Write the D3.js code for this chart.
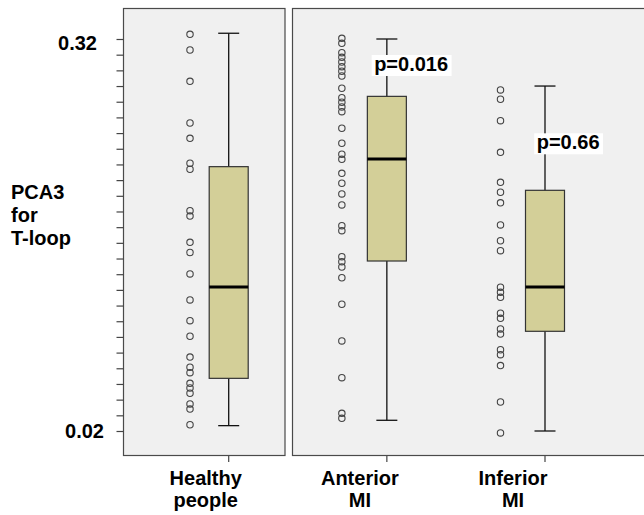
<!DOCTYPE html>
<html>
<head>
<meta charset="utf-8">
<script src="https://cdn.jsdelivr.net/npm/d3@7"></script>
<style>
  body { margin: 0; background: #fff; }
  text { font-family: 'Liberation Sans', Arial, sans-serif; font-weight: bold; fill: #000; }
</style>
</head>
<body>
<div class="canvas"></div>
<script>
// categories and their two-line labels
const categories = ['Healthy', 'Anterior', 'Inferior'];
const labelLines = [['Healthy', 'people'], ['Anterior', 'MI'], ['Inferior', 'MI']];

// box statistics
const whiskerHigh = [0.3244, 0.3200, 0.2840];
const q3 = [0.2223, 0.2761, 0.2042];
const median = [0.1302, 0.2282, 0.1302];
const q1 = [0.0603, 0.1501, 0.0963];
const whiskerLow = [0.0241, 0.0282, 0.0200];

// individual values shown as circles next to each box
const healthyValues = [0.3236, 0.3116, 0.2876, 0.2557, 0.2440, 0.2249, 0.2203, 0.1886,
  0.1845, 0.1644, 0.1566, 0.1402, 0.1203, 0.1044, 0.0925, 0.0766, 0.0688, 0.0646,
  0.0565, 0.0529, 0.0489, 0.0407, 0.0368, 0.0248];
const anteriorValues = [0.3205, 0.3167, 0.3095, 0.3060, 0.3024, 0.2988, 0.2953, 0.2917,
  0.2823, 0.2751, 0.2716, 0.2680, 0.2644, 0.2517, 0.2402, 0.2318, 0.2279, 0.2172,
  0.2096, 0.2014, 0.1930, 0.1771, 0.1733, 0.1534, 0.1496, 0.1455, 0.1373, 0.1170,
  0.0889, 0.0608, 0.0335, 0.0297];
const inferiorValues = [0.2810, 0.2739, 0.2575, 0.2333, 0.2103, 0.2027, 0.1946, 0.1777,
  0.1656, 0.1580, 0.1300, 0.1261, 0.1223, 0.1101, 0.1062, 0.0981, 0.0942, 0.0822,
  0.0784, 0.0701, 0.0422, 0.0185];
const pointValues = [healthyValues, anteriorValues, inferiorValues];

// axis
const yTickLabels = ['0.02', '0.32'];
const yTickLabelValues = [0.02, 0.32];
const yMinorStep = 0.012;

// p values
const pLabels = ['', 'p=0.016', 'p=0.66'];

//svg canvas
const svg = d3.select('.canvas').append('svg').attr('width', 644).attr('height', 515);

//scales
const x = d3.scalePoint().domain(categories).range([228.7, 545]);
const y = d3.scaleLinear().domain([0.02, 0.32]).range([431, 39]);

//panels
const panels = [
  { x: 123.5, w: 161.5 },
  { x: 292.5, w: 360 }
];
svg.selectAll('rect.panel')
  .data(panels)
  .enter()
  .append('rect')
  .attr('class', 'panel')
  .attr('x', d => d.x)
  .attr('y', 8.5)
  .attr('width', d => d.w)
  .attr('height', 447)
  .attr('fill', '#f0f0f0')
  .attr('stroke', '#4a4a4a')
  .attr('stroke-width', 1.2);

//y axis minor ticks
const yTicks = d3.range(0, 26).map(i => 0.02 + i * yMinorStep);
const yAxis = svg.append('g')
  .attr('transform', 'translate(123.5,0)')
  .call(d3.axisLeft(y).tickValues(yTicks).tickSize(7).tickFormat(''));
yAxis.select('.domain').remove();
yAxis.selectAll('line').attr('stroke', '#444').attr('stroke-width', 1.2);

// tick labels (0.32 sits a little lower/left in the original)
const labelNudge = [[0, 0], [-7, 4]];
svg.selectAll('text.ytick')
  .data(yTickLabels)
  .enter()
  .append('text')
  .attr('class', 'ytick')
  .attr('x', (d, i) => 104 + labelNudge[i][0])
  .attr('y', (d, i) => y(yTickLabelValues[i]) + labelNudge[i][1])
  .attr('dy', '0.35em')
  .attr('text-anchor', 'end')
  .style('font-size', '20px')
  .text(d => d);

//y title
svg.append('text')
  .attr('x', 11)
  .attr('y', 198.5)
  .style('font-size', '20px')
  .selectAll('tspan')
  .data(['PCA3', 'for', 'T-loop'])
  .enter()
  .append('tspan')
  .attr('x', 11)
  .attr('dy', (d, i) => i === 0 ? 0 : 23)
  .text(d => d);

//x ticks
svg.selectAll('line.xtick')
  .data(categories)
  .enter()
  .append('line')
  .attr('class', 'xtick')
  .attr('x1', d => x(d))
  .attr('x2', d => x(d))
  .attr('y1', 456)
  .attr('y2', 462)
  .attr('stroke', '#444')
  .attr('stroke-width', 1.2);

//x labels
const labelDx = [-23, -27, -32];
categories.forEach((c, i) => {
  svg.append('text')
    .attr('x', x(c) + labelDx[i])
    .attr('y', 484.5)
    .attr('text-anchor', 'middle')
    .style('font-size', '20px')
    .selectAll('tspan')
    .data(labelLines[i])
    .enter()
    .append('tspan')
    .attr('x', x(c) + labelDx[i])
    .attr('dy', (d, j) => j === 0 ? 0 : 22)
    .text(d => d);
});

//boxes
const boxW = 39;
const capW = 21;
const boxes = svg.selectAll('g.box')
  .data(categories)
  .enter()
  .append('g')
  .attr('class', 'box')
  .attr('transform', d => `translate(${x(d)},0)`);

boxes.append('line')
  .attr('y1', (d, i) => y(whiskerHigh[i]))
  .attr('y2', (d, i) => y(whiskerLow[i]))
  .attr('stroke', '#111')
  .attr('stroke-width', 1.3);

boxes.append('line')
  .attr('x1', -capW / 2)
  .attr('x2', capW / 2)
  .attr('y1', (d, i) => y(whiskerHigh[i]))
  .attr('y2', (d, i) => y(whiskerHigh[i]))
  .attr('stroke', '#111')
  .attr('stroke-width', 1.3);

boxes.append('line')
  .attr('x1', -capW / 2)
  .attr('x2', capW / 2)
  .attr('y1', (d, i) => y(whiskerLow[i]))
  .attr('y2', (d, i) => y(whiskerLow[i]))
  .attr('stroke', '#111')
  .attr('stroke-width', 1.3);

boxes.append('rect')
  .attr('x', -boxW / 2)
  .attr('width', boxW)
  .attr('y', (d, i) => y(q3[i]))
  .attr('height', (d, i) => y(q1[i]) - y(q3[i]))
  .attr('fill', '#d3cf98')
  .attr('stroke', '#333')
  .attr('stroke-width', 1.2);

boxes.append('line')
  .attr('x1', -boxW / 2)
  .attr('x2', boxW / 2)
  .attr('y1', (d, i) => y(median[i]))
  .attr('y2', (d, i) => y(median[i]))
  .attr('stroke', '#000')
  .attr('stroke-width', 3);

//points
const dotDx = [-38.7, -45, -44.5];
categories.forEach((c, i) => {
  svg.selectAll('circle.p' + i)
    .data(pointValues[i])
    .enter()
    .append('circle')
    .attr('class', 'p' + i)
    .attr('cx', x(c) + dotDx[i])
    .attr('cy', d => y(d))
    .attr('r', 3.2)
    .attr('fill', 'none')
    .attr('stroke', '#444')
    .attr('stroke-width', 1.1);
});

//p value labels with white background
const pPos = [null, [-12.7, 71], [-8.3, 149.3]];
pLabels.forEach((t, i) => {
  if (!t) return;
  const g = svg.append('g');
  const bg = g.append('rect').attr('fill', '#fff');
  const txt = g.append('text')
    .attr('x', x(categories[i]) + pPos[i][0])
    .attr('y', pPos[i][1])
    .style('font-size', '20px')
    .text(t);
  const b = txt.node().getBBox();
  bg.attr('x', b.x - 2.5)
    .attr('y', pPos[i][1] - 16)
    .attr('width', b.width + 6)
    .attr('height', 21);
});
</script>
</body>
</html>
